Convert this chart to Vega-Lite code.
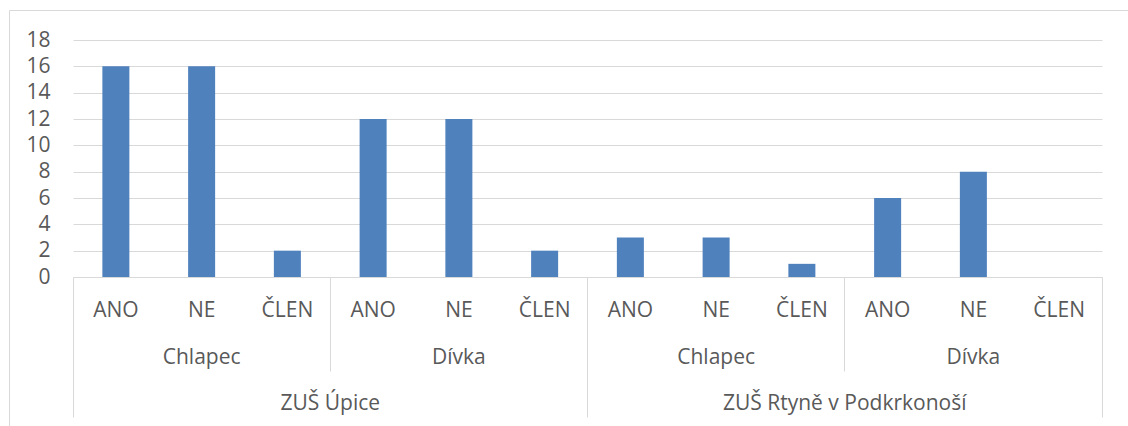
{
  "$schema": "https://vega.github.io/schema/vega-lite/v6.json",
  "width": 1029,
  "height": 237,
  "autosize": "none",
  "padding": {"left": 73, "top": 40, "right": 26, "bottom": 149},
  "background": "white",
  "config": {
    "view": {"stroke": null},
    "font": "Open Sans",
    "axis": {"labelFont": "Open Sans", "labelFontSize": 21, "labelColor": "#595959", "title": null}
  },
  "data": {
    "values": [
      {"cat": "ZUŠ Úpice|Chlapec|ANO", "school": "ZUŠ Úpice", "gender": "Chlapec", "answer": "ANO", "value": 16},
      {"cat": "ZUŠ Úpice|Chlapec|NE", "school": "ZUŠ Úpice", "gender": "Chlapec", "answer": "NE", "value": 16},
      {"cat": "ZUŠ Úpice|Chlapec|ČLEN", "school": "ZUŠ Úpice", "gender": "Chlapec", "answer": "ČLEN", "value": 2},
      {"cat": "ZUŠ Úpice|Dívka|ANO", "school": "ZUŠ Úpice", "gender": "Dívka", "answer": "ANO", "value": 12},
      {"cat": "ZUŠ Úpice|Dívka|NE", "school": "ZUŠ Úpice", "gender": "Dívka", "answer": "NE", "value": 12},
      {"cat": "ZUŠ Úpice|Dívka|ČLEN", "school": "ZUŠ Úpice", "gender": "Dívka", "answer": "ČLEN", "value": 2},
      {"cat": "ZUŠ Rtyně v Podkrkonoší|Chlapec|ANO", "school": "ZUŠ Rtyně v Podkrkonoší", "gender": "Chlapec", "answer": "ANO", "value": 3},
      {"cat": "ZUŠ Rtyně v Podkrkonoší|Chlapec|NE", "school": "ZUŠ Rtyně v Podkrkonoší", "gender": "Chlapec", "answer": "NE", "value": 3},
      {"cat": "ZUŠ Rtyně v Podkrkonoší|Chlapec|ČLEN", "school": "ZUŠ Rtyně v Podkrkonoší", "gender": "Chlapec", "answer": "ČLEN", "value": 1},
      {"cat": "ZUŠ Rtyně v Podkrkonoší|Dívka|ANO", "school": "ZUŠ Rtyně v Podkrkonoší", "gender": "Dívka", "answer": "ANO", "value": 6},
      {"cat": "ZUŠ Rtyně v Podkrkonoší|Dívka|NE", "school": "ZUŠ Rtyně v Podkrkonoší", "gender": "Dívka", "answer": "NE", "value": 8},
      {"cat": "ZUŠ Rtyně v Podkrkonoší|Dívka|ČLEN", "school": "ZUŠ Rtyně v Podkrkonoší", "gender": "Dívka", "answer": "ČLEN", "value": 0}
    ]
  },
  "layer": [
    {
      "layer": [
        {
          "mark": {"type": "bar", "width": {"band": 0.315}, "color": "#4F81BD"},
          "encoding": {
            "x": {
              "field": "cat", "type": "nominal", "sort": null,
              "scale": {"paddingInner": 0, "paddingOuter": 0},
              "axis": {
                "orient": "bottom",
                "labelExpr": "split(datum.value,'|')[2]",
                "labelAngle": 0, "labelAlign": "center", "labelBaseline": "alphabetic",
                "labelPadding": 39, "labelLimit": 0, "labelOverlap": false,
                "ticks": false, "tickSize": 0,
                "domain": true, "domainColor": "#D9D9D9", "domainWidth": 1, "grid": false
              }
            },
            "y": {
              "field": "value", "type": "quantitative",
              "scale": {"domain": [0, 18], "nice": false},
              "axis": {
                "orient": "left",
                "values": [0, 2, 4, 6, 8, 10, 12, 14, 16, 18],
                "grid": true, "gridColor": "#D9D9D9", "gridWidth": 1,
                "domain": false, "ticks": false, "tickSize": 0,
                "labelPadding": 23
              }
            }
          }
        },
        {
          "mark": {"type": "bar", "opacity": 0},
          "encoding": {
            "x": {
              "field": "cat", "type": "nominal", "sort": null,
              "axis": {
                "orient": "bottom",
                "labelExpr": "split(datum.value,'|')[2]=='NE' ? split(datum.value,'|')[1] : ''",
                "labelAngle": 0, "labelAlign": "center", "labelBaseline": "alphabetic",
                "labelPadding": 86, "labelLimit": 0, "labelOverlap": false,
                "ticks": false, "tickSize": 0, "domain": false, "grid": false
              }
            }
          }
        },
        {
          "mark": {"type": "bar", "opacity": 0},
          "encoding": {
            "x": {
              "field": "cat", "type": "nominal", "sort": null,
              "axis": {
                "orient": "bottom",
                "labelExpr": "(split(datum.value,'|')[1]=='Chlapec' && split(datum.value,'|')[2]=='ČLEN') ? split(datum.value,'|')[0] : ''",
                "labelAngle": 0, "labelAlign": "center", "labelBaseline": "alphabetic",
                "labelPadding": 132, "labelOffset": 42.875, "labelLimit": 0, "labelOverlap": false,
                "ticks": false, "tickSize": 0, "domain": false, "grid": false
              }
            }
          }
        },
        {
          "mark": {"type": "bar", "opacity": 0},
          "encoding": {
            "x": {
              "field": "cat", "type": "nominal", "sort": null,
              "axis": {
                "orient": "bottom",
                "labels": false, "domain": false, "grid": false,
                "ticks": true, "tickSize": 140, "tickWidth": 1, "bandPosition": 0,
                "tickColor": {"condition": {"test": "datum.value == 'ZUŠ Úpice|Chlapec|ANO' || datum.value == 'ZUŠ Rtyně v Podkrkonoší|Chlapec|ANO'", "value": "#D9D9D9"}, "value": "transparent"}
              }
            }
          }
        },
        {
          "mark": {"type": "bar", "opacity": 0},
          "encoding": {
            "x": {
              "field": "cat", "type": "nominal", "sort": null,
              "axis": {
                "orient": "bottom",
                "labels": false, "domain": false, "grid": false,
                "ticks": true, "tickSize": 94, "tickWidth": 1, "bandPosition": 0,
                "tickColor": {"condition": {"test": "datum.value == 'ZUŠ Úpice|Dívka|ANO' || datum.value == 'ZUŠ Rtyně v Podkrkonoší|Dívka|ANO'", "value": "#D9D9D9"}, "value": "transparent"}
              }
            }
          }
        },
        {
          "mark": {"type": "bar", "opacity": 0},
          "encoding": {
            "x": {
              "field": "cat", "type": "nominal", "sort": null,
              "axis": {
                "orient": "bottom",
                "labels": false, "domain": false, "grid": false,
                "ticks": true, "tickSize": 140, "tickWidth": 1, "bandPosition": 1,
                "tickColor": {"condition": {"test": "datum.value == 'ZUŠ Rtyně v Podkrkonoší|Dívka|ČLEN'", "value": "#D9D9D9"}, "value": "transparent"}
              }
            }
          }
        }
      ],
      "resolve": {"axis": {"x": "independent"}}
    },
    {
      "mark": {"type": "point", "opacity": 0},
      "encoding": {
        "x": {
          "field": "value", "type": "quantitative",
          "scale": {"domain": [0, 18], "range": [-64, 1060], "nice": false, "zero": false},
          "axis": {"orient": "top", "offset": 30, "labels": false, "ticks": false, "grid": false, "domain": true, "domainColor": "#D9D9D9", "domainWidth": 1}
        },
        "y": {
          "field": "value", "type": "quantitative",
          "scale": {"domain": [0, 18], "range": [390, -30], "nice": false, "zero": false},
          "axis": {"orient": "left", "offset": 64, "labels": false, "ticks": false, "grid": false, "domain": true, "domainColor": "#D9D9D9", "domainWidth": 1}
        }
      }
    }
  ],
  "resolve": {"scale": {"x": "independent", "y": "independent"}, "axis": {"x": "independent", "y": "independent"}}
}
